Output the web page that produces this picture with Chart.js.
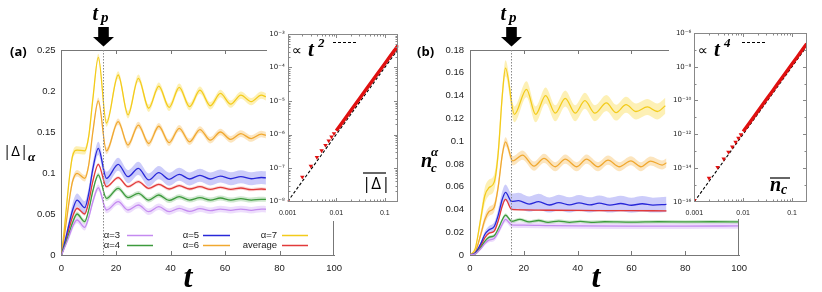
<!DOCTYPE html>
<html><head><meta charset="utf-8">
<script src="https://cdn.jsdelivr.net/npm/chart.js@4/dist/chart.umd.min.js"></script>
<style>
html,body{margin:0;padding:0;background:#fff;}
body{width:822px;height:292px;position:relative;overflow:hidden;}
canvas{position:absolute;}
</style></head><body>
<canvas id="ma" width="350" height="292" style="left:0px;top:0px"></canvas>
<canvas id="mb" width="345" height="292" style="left:410px;top:0px"></canvas>
<canvas id="ia" width="153" height="199" style="left:259px;top:22px"></canvas>
<canvas id="ib" width="159" height="197" style="left:663px;top:22px"></canvas>
<script>
// ---------------- DATA ----------------
const tickX = [0, 20, 40, 60, 80, 100];
const tickXLabels = ['0', '20', '40', '60', '80', '100'];
const tickYA = [0, 0.05, 0.1, 0.15, 0.2, 0.25];
const tickYALabels = ['0', '0.05', '0.1', '0.15', '0.2', '0.25'];
const tickYB = [0, 0.02, 0.04, 0.06, 0.08, 0.1, 0.12, 0.14, 0.16, 0.18];
const tickYBLabels = ['0', '0.02', '0.04', '0.06', '0.08', '0.1', '0.12', '0.14', '0.16', '0.18'];
const tP = 15.4;

const seriesNames = ['α=3', 'α=4', 'α=5', 'α=6', 'α=7', 'average'];

// panel (a): |Δ|_α vs t
const tA = [0, 1, 2, 3, 4, 5.7, 8.5, 10, 11.5, 13.5, 16.5, 20.8, 24.4, 28.2, 32, 35.7, 39.5, 43.2, 47, 50.8, 54.6, 58.3, 62.1, 65.8, 69.6, 73.3, 75];
const a3 = [0, 0.008, 0.016, 0.025, 0.034, 0.0427, 0.0338, 0.046, 0.065, 0.082, 0.0549, 0.065, 0.0549, 0.061, 0.0528, 0.0589, 0.0528, 0.0569, 0.0532, 0.0565, 0.054, 0.056, 0.0545, 0.056, 0.0545, 0.056, 0.0558];
const a4 = [0, 0.0095, 0.019, 0.029, 0.039, 0.050, 0.0407, 0.055, 0.078, 0.0976, 0.069, 0.0813, 0.070, 0.0752, 0.067, 0.0732, 0.0665, 0.0711, 0.067, 0.0699, 0.067, 0.0695, 0.067, 0.0687, 0.067, 0.0679, 0.0678];
const a5 = [0, 0.013, 0.027, 0.041, 0.054, 0.067, 0.0577, 0.075, 0.105, 0.130, 0.0935, 0.1106, 0.0955, 0.1057, 0.0915, 0.1004, 0.0923, 0.0984, 0.0927, 0.0972, 0.0927, 0.0963, 0.093, 0.0955, 0.093, 0.0945, 0.094];
const a6 = [0, 0.022, 0.046, 0.07, 0.089, 0.0996, 0.0935, 0.11, 0.15, 0.188, 0.127, 0.1626, 0.134, 0.1585, 0.136, 0.157, 0.137, 0.1545, 0.138, 0.153, 0.140, 0.150, 0.141, 0.148, 0.142, 0.1475, 0.146];
const a7 = [0, 0.03, 0.065, 0.097, 0.12, 0.128, 0.127, 0.145, 0.19, 0.241, 0.161, 0.2195, 0.171, 0.2155, 0.179, 0.206, 0.180, 0.2045, 0.181, 0.201, 0.182, 0.197, 0.184, 0.195, 0.187, 0.195, 0.193];
const aAvg = [0, 0.011, 0.023, 0.035, 0.046, 0.057, 0.050, 0.065, 0.09, 0.1106, 0.0833, 0.0943, 0.0833, 0.0894, 0.0813, 0.0862, 0.0805, 0.0846, 0.0805, 0.0833, 0.080, 0.0825, 0.080, 0.0817, 0.0797, 0.0805, 0.080];
const spreadA = [0.004, 0.003, 0.008, 0.004, 0.0045, 0.002];

// panel (b): n_c^α vs t
const t3b = [0, 2, 4, 5.5, 7, 9, 10.5, 12, 13.2, 15.5, 20, 30, 40, 60, 80, 100];
const b3 = [0, 0.001, 0.0055, 0.010, 0.013, 0.0145, 0.020, 0.027, 0.0313, 0.0265, 0.0262, 0.0258, 0.0256, 0.0254, 0.0254, 0.0255];
const t4b = [0, 2, 4, 5.5, 7, 9, 10.5, 12, 13.2, 15.5, 18.5, 22, 25.5, 29, 33, 37, 41, 45, 50, 60, 70, 80, 90, 100];
const b4 = [0, 0.001, 0.0065, 0.012, 0.0155, 0.017, 0.023, 0.031, 0.0351, 0.0295, 0.0312, 0.029, 0.0303, 0.0287, 0.0298, 0.0287, 0.0295, 0.0287, 0.0292, 0.0288, 0.0292, 0.029, 0.0292, 0.029];
const t5b = [0, 2, 4, 5.5, 7, 9, 10.5, 12, 13.2, 15.5, 18, 22, 25.5, 29.5, 33, 37, 40.5, 44.5, 48, 52, 56, 60, 64, 68, 73];
const b5 = [0, 0.002, 0.010, 0.018, 0.022, 0.025, 0.035, 0.049, 0.055, 0.047, 0.0477, 0.0447, 0.0468, 0.0439, 0.046, 0.044, 0.0458, 0.044, 0.0455, 0.0438, 0.0452, 0.0437, 0.045, 0.0438, 0.0445];
const t6b = [0, 2, 4, 5.5, 7, 9, 10.5, 12, 13.2, 15.9, 19.5, 23.8, 27.5, 31.7, 35.4, 39.7, 43.3, 47.6, 51.3, 55.5, 59.8, 63.5, 67.1, 71.4, 73];
const b6 = [0, 0.003, 0.018, 0.031, 0.038, 0.042, 0.06, 0.088, 0.0994, 0.0827, 0.0877, 0.078, 0.0848, 0.0775, 0.0842, 0.0775, 0.0842, 0.0775, 0.0833, 0.0775, 0.0827, 0.0775, 0.0825, 0.079, 0.081];
const t7b = [0, 2, 4, 5.5, 7, 9, 10.5, 12, 13.2, 16.5, 21, 24.4, 28.1, 31.7, 35.4, 39.1, 42.7, 46.4, 50.7, 54.3, 58, 61.7, 65.9, 69.6, 72.6];
const b7 = [0, 0.006, 0.032, 0.052, 0.059, 0.064, 0.09, 0.14, 0.164, 0.1235, 0.1455, 0.1235, 0.140, 0.1245, 0.1375, 0.1245, 0.1355, 0.1245, 0.1335, 0.125, 0.132, 0.126, 0.130, 0.126, 0.131];
const tAvgB = [0, 2, 4, 5.5, 7, 9, 10.5, 12, 13.2, 15.5, 20, 30, 40, 50, 60, 73];
const bAvg = [0, 0.0015, 0.008, 0.015, 0.019, 0.021, 0.030, 0.043, 0.0488, 0.040, 0.0397, 0.0393, 0.0391, 0.039, 0.0389, 0.0388];
const spreadB = [0.0025, 0.0015, 0.007, 0.004, 0.007, 0.0008];

// insets (log-log, early times)
const insXTicks = [0.001, 0.01, 0.1];
const insXLabels = ['0.001', '0.01', '0.1'];
const insYTicksA = [1e-8, 1e-7, 1e-6, 1e-5, 1e-4, 1e-3];
const insYLabelsA = ['10⁻⁸', '10⁻⁷', '10⁻⁶', '10⁻⁵', '10⁻⁴', '10⁻³'];
const insYTicksB = [1e-16, 1e-14, 1e-12, 1e-10, 1e-8, 1e-6];
const insYLabelsB = ['10⁻¹⁶', '10⁻¹⁴', '10⁻¹²', '10⁻¹⁰', '10⁻⁸', '10⁻⁶'];

const insLoTA = [0.001, 0.002, 0.003, 0.004, 0.005, 0.006, 0.007, 0.008, 0.009];
const insLoVA = [1.0e-8, 5.4e-8, 1.15e-7, 2.1e-7, 3.3e-7, 4.8e-7, 6.5e-7, 8.5e-7, 1.07e-6];
const insHiTA = [0.01, 0.012, 0.015, 0.02, 0.03, 0.04, 0.05, 0.07, 0.1, 0.13, 0.16, 0.19];
const insHiVA = [1.3e-6, 1.87e-6, 2.9e-6, 5.2e-6, 1.17e-5, 2.08e-5, 3.25e-5, 6.4e-5, 1.3e-4, 2.2e-4, 3.3e-4, 4.7e-4];
const fitTA = [0.001, 0.19];
const fitVA = [1e-8, 3.6e-4];

const insLoTB = [0.001, 0.002, 0.003, 0.004, 0.005, 0.006, 0.007, 0.008, 0.009];
const insLoVB = [1.2e-16, 2.5e-15, 1.1e-14, 3.5e-14, 8.9e-14, 1.8e-13, 3.4e-13, 5.9e-13, 9.5e-13];
const insHiTB = [0.01, 0.012, 0.015, 0.02, 0.03, 0.04, 0.05, 0.07, 0.1, 0.13, 0.16, 0.2];
const insHiVB = [1.45e-12, 3.0e-12, 7.3e-12, 2.3e-11, 1.17e-10, 3.7e-10, 9.1e-10, 3.5e-9, 1.45e-8, 4.1e-8, 9.5e-8, 2.3e-7];
const fitTB = [0.001, 0.2];
const fitVB = [1e-16, 1.6e-7];

// ---------------- STYLE ----------------
const lineColors = ['#c48af0', '#3d9a3d', '#2828d8', '#f0a830', '#f3cb1b', '#e23a3a'];
const bandColors = ['rgba(200,150,245,0.32)', 'rgba(80,170,80,0.28)', 'rgba(110,110,240,0.35)', 'rgba(245,180,70,0.35)', 'rgba(250,215,60,0.38)', 'rgba(235,90,90,0.25)'];
const SANS = "'Liberation Sans', Arial, sans-serif";
const SERIF = "'Liberation Serif', 'DejaVu Serif', serif";
const INK = '#777';

const zip = (t, v) => t.map((x, i) => ({x: x, y: v[i]}));

function seriesSets(t, v, s, k) {
  const hw = v.map(y => Math.min(s, y * 0.15));
  return [
    {data: t.map((x, i) => ({x: x, y: v[i] - hw[i]})), borderWidth: 0, borderColor: 'transparent', pointRadius: 0, fill: false, order: 3, cubicInterpolationMode: 'monotone'},
    {data: t.map((x, i) => ({x: x, y: v[i] + hw[i]})), borderWidth: 0, borderColor: 'transparent', pointRadius: 0, fill: '-1', backgroundColor: bandColors[k], order: 3, cubicInterpolationMode: 'monotone'},
  ];
}
function lineSet(t, v, k) {
  return {label: seriesNames[k], data: zip(t, v), borderColor: lineColors[k], borderWidth: 1.3, pointRadius: 0, fill: false, order: 1, cubicInterpolationMode: 'monotone'};
}

function line(ctx, x1, y1, x2, y2) { ctx.beginPath(); ctx.moveTo(x1, y1); ctx.lineTo(x2, y2); ctx.stroke(); }

function decorMain(chart, o) {
  const ctx = chart.ctx, ca = chart.chartArea, xs = chart.scales.x;
  ctx.save();
  ctx.strokeStyle = INK; ctx.lineWidth = 1;
  const L = Math.round(ca.left), R = Math.round(ca.right), T = Math.round(ca.top), B = Math.round(ca.bottom);
  line(ctx, L, T + 0.5, R, T + 0.5);
  line(ctx, R - 0.5, T, R - 0.5, B);
  tickX.slice(1, -1).forEach(v => {
    const x = Math.round(xs.getPixelForValue(v)) + 0.5;
    line(ctx, x, B, x, B - 4); line(ctx, x, T, x, T + 4);
  });
  // t_p marker
  const xp = Math.round(xs.getPixelForValue(tP)) + 0.5;
  ctx.strokeStyle = '#8a8a8a'; ctx.setLineDash([1.5, 1.5]);
  line(ctx, xp, T, xp, B); ctx.setLineDash([]);
  ctx.fillStyle = '#000';
  ctx.fillRect(xp - 5.3, 27, 10.6, 10.5);
  ctx.beginPath(); ctx.moveTo(xp - 10.5, 37); ctx.lineTo(xp + 10.5, 37); ctx.lineTo(xp, 46.5); ctx.closePath(); ctx.fill();
  ctx.textBaseline = 'alphabetic'; ctx.textAlign = 'left';
  ctx.font = 'italic bold 20px ' + SERIF; ctx.fillText('t', xp - 11, 20);
  ctx.font = 'italic bold 15px ' + SERIF; ctx.fillText('p', xp - 2.5, 22);
  // panel label
  ctx.font = "bold 13px 'Open Sans', " + SANS; ctx.fillText(o.panel, o.panelX, 56);
  // big x title
  ctx.font = 'italic bold 32px ' + SERIF; ctx.textAlign = 'center';
  ctx.fillText('t', o.tX, 287);
  ctx.textAlign = 'left';
  o.extra(ctx);
  ctx.restore();
}

function mainChart(id, sets, o) {
  return new Chart(document.getElementById(id), {
    type: 'line',
    data: {datasets: sets},
    options: {
      responsive: false, animation: false, devicePixelRatio: 1, events: [],
      layout: {padding: {left: 0, top: 50, right: o.padRight, bottom: 0}},
      plugins: {legend: {display: false}, tooltip: {enabled: false}},
      scales: {
        x: {type: 'linear', min: 0, max: 100,
            afterBuildTicks: s => { s.ticks = tickX.map(v => ({value: v})); },
            afterFit: s => { s.height = 37; },
            grid: {display: false, drawTicks: false}, border: {display: true, color: INK, width: 1},
            ticks: {autoSkip: false, maxRotation: 0, padding: 8, color: '#222', font: {family: SANS, size: 9.5},
                    callback: v => tickXLabels[tickX.indexOf(v)]}},
        y: {type: 'linear', min: 0, max: o.yMax,
            afterBuildTicks: s => { s.ticks = o.yTicks.map(v => ({value: v})); },
            afterFit: s => { s.width = o.yWidth; },
            grid: {display: false, drawTicks: false}, border: {display: true, color: INK, width: 1},
            ticks: {autoSkip: false, padding: 6, color: '#222', font: {family: SANS, size: 9.5},
                    callback: v => { let best = 0; o.yTicks.forEach((t, i) => { if (Math.abs(t - v) < Math.abs(o.yTicks[best] - v)) best = i; }); return o.yLabels[best]; }}}
      }
    },
    plugins: [{id: 'decor' + id, afterDraw: c => decorMain(c, o)}]
  });
}

// ---------- panel (a) main ----------
const setsA = [];
const dataA = [a3, a4, a5, a6, a7, aAvg];
dataA.forEach((v, k) => setsA.push(...seriesSets(tA, v, spreadA[k], k)));
dataA.forEach((v, k) => setsA.push(lineSet(tA, v, k)));

mainChart('ma', setsA, {
  padRight: 13, yWidth: 61.5, yMax: 0.25, yTicks: tickYA, yLabels: tickYALabels, panel: '(a)', panelX: 10, tX: 188,
  extra: ctx => {
    ctx.fillStyle = '#000';
    ctx.font = "15px 'Open Sans', " + SANS; ctx.fillText('|Δ|', 3, 156);
    ctx.font = 'italic bold 13px ' + SERIF; ctx.fillText('α', 28, 161);
    const cols = [[120, 127, 153], [199, 203, 230], [277, 282, 308]];
    const rows = [235, 245];
    const order = [[0, 2, 4], [1, 3, 5]];
    ctx.font = '9.5px ' + SANS; ctx.textBaseline = 'middle'; ctx.textAlign = 'right';
    order.forEach((r, ri) => r.forEach((k, ci) => {
      const c = cols[ci], y = rows[ri];
      ctx.fillStyle = '#222'; ctx.fillText(seriesNames[k], c[0], y);
      ctx.strokeStyle = lineColors[k]; ctx.lineWidth = 1.5;
      line(ctx, c[1], y + 0.5, c[2], y + 0.5);
    }));
    ctx.textAlign = 'left'; ctx.textBaseline = 'alphabetic';
  }
});

// ---------- panel (b) main ----------
const setsB = [];
const dataB = [[t3b, b3], [t4b, b4], [t5b, b5], [t6b, b6], [t7b, b7], [tAvgB, bAvg]];
dataB.forEach((d, k) => setsB.push(...seriesSets(d[0], d[1], spreadB[k], k)));
dataB.forEach((d, k) => setsB.push(lineSet(d[0], d[1], k)));

mainChart('mb', setsB, {
  padRight: 12, yWidth: 60, yMax: 0.18, yTicks: tickYB, yLabels: tickYBLabels, panel: '(b)', panelX: 7, tX: 186,
  extra: ctx => {
    ctx.fillStyle = '#000';
    ctx.font = 'italic bold 20px ' + SERIF; ctx.fillText('n', 11, 167);
    ctx.font = 'italic bold 13px ' + SERIF; ctx.fillText('c', 21, 172); ctx.fillText('α', 21, 156);
  }
});

// ---------- insets ----------
function decorInset(chart, o) {
  const ctx = chart.ctx, ca = chart.chartArea, xs = chart.scales.x, ys = chart.scales.y;
  ctx.save();
  ctx.strokeStyle = '#888'; ctx.lineWidth = 1;
  const L = Math.round(ca.left), R = Math.round(ca.right), T = Math.round(ca.top), B = Math.round(ca.bottom);
  ctx.strokeRect(L + 0.5, T + 0.5, R - L - 1, B - T - 1);
  const xt = [];
  [0.001, 0.01, 0.1].forEach(d => { for (let m = 1; m <= 9; m++) xt.push([d * m, m === 1 ? 4 : 2.5]); });
  xt.forEach(([v, len]) => {
    const x = Math.round(xs.getPixelForValue(v)) + 0.5;
    if (x < L || x > R) return;
    line(ctx, x, B, x, B - len); line(ctx, x, T, x, T + len);
  });
  o.yMinor.forEach(([v, len]) => {
    const y = Math.round(ys.getPixelForValue(v)) + 0.5;
    if (y < T || y > B) return;
    line(ctx, L, y, L + len, y); line(ctx, R, y, R - len, y);
  });
  ctx.fillStyle = '#000'; ctx.textAlign = 'left'; ctx.textBaseline = 'alphabetic';
  ctx.font = "14px 'DejaVu Sans', sans-serif"; ctx.fillText('∝', L + 4, 33);
  ctx.font = 'italic bold 21px ' + SERIF; ctx.fillText('t', L + 20, 34);
  ctx.font = 'italic bold 13px ' + SERIF; ctx.fillText(o.power, L + 30, 25);
  ctx.strokeStyle = '#000'; ctx.lineWidth = 1; ctx.setLineDash([3, 2]);
  line(ctx, L + o.dashDX, 20.5, L + o.dashDX + 23, 20.5); ctx.setLineDash([]);
  o.label(ctx, L);
  ctx.restore();
}

function insetChart(id, o) {
  return new Chart(document.getElementById(id), {
    type: 'scatter',
    data: {datasets: [
      {data: zip(o.fitT, o.fitV), showLine: true, borderColor: '#000', borderWidth: 1.1, borderDash: [3, 2], pointRadius: 0, order: 3},
      {data: zip(o.hiT, o.hiV), showLine: true, borderColor: '#e01010', borderWidth: 3.4, pointRadius: 0, order: 2},
      {data: zip(o.loT, o.loV), showLine: false, pointStyle: 'triangle', rotation: 180, pointRadius: 2.6, backgroundColor: '#e01010', borderColor: '#e01010', borderWidth: 0, order: 1}
    ]},
    options: {
      responsive: false, animation: false, devicePixelRatio: 1, events: [],
      layout: {padding: {left: 0, top: o.padTop, right: o.padRight, bottom: 0}},
      plugins: {legend: {display: false}, tooltip: {enabled: false}},
      scales: {
        x: {type: 'logarithmic', min: 0.001, max: o.xMax,
            afterBuildTicks: s => { s.ticks = insXTicks.map(v => ({value: v})); },
            afterFit: s => { s.height = o.xH; },
            grid: {display: false, drawTicks: false}, border: {display: false},
            ticks: {autoSkip: false, maxRotation: 0, padding: 7, color: '#222', font: {family: SANS, size: 7},
                    callback: (v, i) => insXLabels[i]}},
        y: {type: 'logarithmic', min: o.yTicks[0], max: o.yTicks[o.yTicks.length - 1],
            afterBuildTicks: s => { s.ticks = o.yTicks.map(v => ({value: v})); },
            afterFit: s => { s.width = o.yW; },
            grid: {display: false, drawTicks: false}, border: {display: false},
            ticks: {autoSkip: false, padding: 3, color: '#222', font: {family: "'DejaVu Sans', sans-serif", size: 7},
                    callback: (v, i) => o.yLabels[i]}}
      }
    },
    plugins: [{id: 'bg' + id, beforeDraw: c => { const x = c.ctx; x.save(); x.fillStyle = '#fff'; x.fillRect(o.bgLeft, 0, c.width - o.bgLeft, c.height); x.restore(); }},
              {id: 'decor' + id, afterDraw: c => decorInset(c, o)}]
  });
}

const yMinorA = [];
[1e-8, 1e-7, 1e-6, 1e-5, 1e-4].forEach(d => { for (let m = 1; m <= 9; m++) yMinorA.push([d * m, m === 1 ? 4 : 2.5]); });
yMinorA.push([1e-3, 4]);
const yMinorB = [];
for (let e = -16; e <= -6; e++) yMinorB.push([Math.pow(10, e), e % 2 === 0 ? 4 : 2.5]);

insetChart('ia', {
  fitT: fitTA, fitV: fitVA, hiT: insHiTA, hiV: insHiVA, loT: insLoTA, loV: insLoVA,
  xMax: 0.19, yTicks: insYTicksA, yLabels: insYLabelsA, yMinor: yMinorA, bgLeft: 8,
  padTop: 12, padRight: 13.7, xH: 19.5, yW: 28.7, power: '2', dashDX: 45,
  label: (ctx, L) => {
    ctx.font = "17px 'Open Sans', " + SANS; ctx.fillText('|Δ|', L + 74, 167);
    ctx.lineWidth = 1.2; line(ctx, L + 75, 151, L + 98, 151);
  }
});
insetChart('ib', {
  fitT: fitTB, fitV: fitVB, hiT: insHiTB, hiV: insHiVB, loT: insLoTB, loV: insLoVB,
  xMax: 0.2, yTicks: insYTicksB, yLabels: insYLabelsB, yMinor: yMinorB, bgLeft: 6,
  padTop: 11, padRight: 15.3, xH: 17.3, yW: 31.3, power: '4', dashDX: 48,
  label: (ctx, L) => {
    ctx.font = 'italic bold 20px ' + SERIF; ctx.fillText('n', L + 76, 169);
    ctx.font = 'italic bold 14px ' + SERIF; ctx.fillText('c', L + 87, 172);
    ctx.lineWidth = 1.2; line(ctx, L + 76, 156, L + 96, 156);
  }
});
</script>
</body></html>
